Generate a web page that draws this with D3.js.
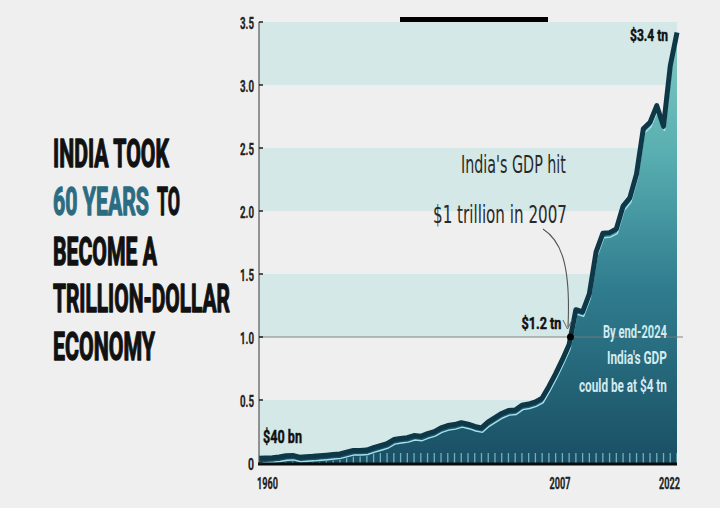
<!DOCTYPE html>
<html><head><meta charset="utf-8">
<script src="https://cdn.jsdelivr.net/npm/d3@7"></script>
<style>html,body{margin:0;padding:0;background:#efefef;} svg{display:block}</style>
</head><body><svg id="c" width="720" height="508"></svg>
<script>
// ---- data ----
const years = [1960,1961,1962,1963,1964,1965,1966,1967,1968,1969,
  1970,1971,1972,1973,1974,1975,1976,1977,1978,1979,
  1980,1981,1982,1983,1984,1985,1986,1987,1988,1989,
  1990,1991,1992,1993,1994,1995,1996,1997,1998,1999,
  2000,2001,2002,2003,2004,2005,2006,2007,2008,2009,
  2010,2011,2012,2013,2014,2015,2016,2017,2018,2019,
  2020,2021,2022];
const gdpTn = [0.037,0.039,0.042,0.048,0.057,0.060,0.046,0.050,0.053,0.058,
  0.062,0.067,0.072,0.086,0.100,0.099,0.103,0.122,0.137,0.153,
  0.186,0.194,0.201,0.218,0.212,0.233,0.249,0.279,0.297,0.305,
  0.320,0.308,0.290,0.279,0.327,0.360,0.393,0.416,0.421,0.459,
  0.468,0.485,0.515,0.608,0.709,0.820,0.940,1.217,1.199,1.342,
  1.676,1.823,1.828,1.857,2.039,2.104,2.295,2.652,2.703,2.836,
  2.672,3.150,3.417];
const yTicks = [0,0.5,1,1.5,2,2.5,3,3.5];
const yTickLabels = ["0","0.5","1.0","1.5","2.0","2.5","3.0","3.5"];
const xTickYears = [1960,2007,2022];
const bands = [[0,0.5],[1,1.5],[2,2.5],[3,3.5]];
const titleLines = ["INDIA TOOK","60 YEARS","TO","BECOME A","TRILLION-DOLLAR","ECONOMY"];
const noteLines = ["India's GDP hit","$1 trillion in 2007"];
const forecastLines = ["By end-2024","India's GDP","could be at $4 tn"];
const startLabel = "$40 bn", crossLabel = "$1.2 tn", endLabel = "$3.4 tn";
const thresholdTn = 1.0, crossYear = 2006.2;

// ---- layout ----
const svg = d3.select("#c");
const x = d3.scaleLinear().domain([1960,2022]).range([259,677]);
const y = d3.scaleLinear().domain([0,3.5]).range([463,22]);
const data = years.map((yr,i)=>({yr, v:gdpTn[i]}));

// text squeezed horizontally to a target width (condensed look)
function txt(g, str, px, py, width, size, opts={}) {
  const t = g.append("text").attr("x",0).attr("y",0).text(str)
    .attr("font-family", opts.family || "'Liberation Sans Narrow','Roboto','Liberation Sans',sans-serif")
    .attr("font-size", size)
    .attr("font-weight", opts.weight || "bold")
    .attr("fill", opts.fill || "#111")
    .attr("text-anchor", "start");
  if (opts.stroke) t.attr("stroke", opts.fill || "#111").attr("stroke-width", opts.stroke).attr("stroke-linejoin","round");
  const w = t.node().getComputedTextLength() || width;
  const sx = width / w;
  const left = opts.anchor === "end" ? px - width : (opts.anchor === "middle" ? px - width/2 : px);
  t.attr("transform", `translate(${left},${py}) scale(${sx},1)`);
  return t;
}

svg.append("rect").attr("width",720).attr("height",508).attr("fill","#efefef");

// top black bar
svg.append("rect").attr("x",400).attr("y",17).attr("width",148).attr("height",7).attr("fill","#000");

// bands
svg.selectAll("rect.band").data(bands).join("rect").attr("class","band")
  .attr("x", x(1960)).attr("width", x(2022)-x(1960))
  .attr("y", d=>y(d[1])).attr("height", d=>y(d[0])-y(d[1]))
  .attr("fill","#d3e8e7");

// gradient
const defs = svg.append("defs");
const grad = defs.append("linearGradient").attr("id","fillg")
  .attr("gradientUnits","userSpaceOnUse").attr("x1",0).attr("x2",0).attr("y1",y(3.5)).attr("y2",y(0));
[[0,"#84ccc4"],[0.3,"#58aeb0"],[0.6,"#307d8f"],[1,"#1a4f64"]].forEach(s=>
  grad.append("stop").attr("offset",s[0]).attr("stop-color",s[1]));

const area = d3.area().x(d=>x(d.yr)).y0(y(0)).y1(d=>y(d.v));
const line = d3.line().x(d=>x(d.yr)).y(d=>y(d.v));

svg.append("path").datum(data).attr("d",area).attr("fill","url(#fillg)");

// clip for year ticks
defs.append("clipPath").attr("id","areaClip").append("path").datum(data)
  .attr("d", d3.area().x(d=>x(d.yr)).y0(y(0)).y1(d=>y(d.v)+6));
svg.append("g").attr("clip-path","url(#areaClip)")
  .selectAll("line").data(years).join("line")
  .attr("x1",d=>x(d)).attr("x2",d=>x(d)).attr("y1",y(0)).attr("y2",y(0)-10)
  .attr("stroke","#6fb0be").attr("stroke-width",1.3);

// threshold line
svg.append("line").attr("x1",x(1960)).attr("x2",683).attr("y1",y(thresholdTn)).attr("y2",y(thresholdTn))
  .attr("stroke","#7a7a7a").attr("stroke-width",1.2).attr("opacity",0.9);

// highlight + main line
svg.append("path").datum(data).attr("d",line).attr("fill","none")
  .attr("stroke","#a6e2ea").attr("stroke-width",1.4).attr("transform","translate(1,4.5)");
svg.append("path").datum(data).attr("d",line).attr("fill","none")
  .attr("stroke","#0e3847").attr("stroke-width",5).attr("stroke-linejoin","round");

// axes
svg.append("line").attr("x1",x(1960)).attr("x2",x(1960)).attr("y1",y(3.5)).attr("y2",y(0))
  .attr("stroke","#555").attr("stroke-width",1.2);
svg.append("line").attr("x1",x(1960)-1).attr("x2",x(2022)).attr("y1",y(0)+1).attr("y2",y(0)+1)
  .attr("stroke","#0a0a0a").attr("stroke-width",3);
const yAxis = svg.append("g");
yTicks.forEach((v,i)=>{
  yAxis.append("line").attr("x1",x(1960)).attr("x2",x(1960)+4).attr("y1",y(v)).attr("y2",y(v))
    .attr("stroke","#222").attr("stroke-width",1.5);
  const lbl = yTickLabels[i];
  txt(yAxis, lbl, 254, y(v)+6.5, lbl.length===1?6:14, 17, {anchor:"end", fill:"#222", stroke:0.3});
});
xTickYears.forEach((yr,i)=>{
  const anchor = i===0 ? "start" : "end";
  const px = i===0 ? x(yr)-2 : (i===xTickYears.length-1 ? x(yr)+3 : x(crossYear));
  txt(svg, String(yr), px, 489, 21, 17, {anchor, fill:"#222", stroke:0.3});
});

// dot
svg.append("circle").attr("cx",x(crossYear)).attr("cy",y(thresholdTn)).attr("r",3.5).attr("fill","#000");

// value labels
txt(svg, startLabel, x(1960)+4, 443, 39, 19, {fill:"#111", stroke:0.5});
txt(svg, crossLabel, x(crossYear)-9, 329, 40, 17, {anchor:"end", fill:"#111", stroke:0.5});
txt(svg, endLabel, x(2022)-9, 41, 38, 17, {anchor:"end", fill:"#111", stroke:0.5});

// annotation
const hand = "'Liberation Sans Narrow','DejaVu Sans','Liberation Sans',sans-serif";
txt(svg, noteLines[0], 566, 173, 105, 24, {anchor:"end", weight:"normal", fill:"#2a2a2a", family:hand});
txt(svg, noteLines[1], 567, 223, 134, 24, {anchor:"end", weight:"normal", fill:"#2a2a2a", family:hand});
svg.append("path").attr("d","M543,229 C560,240 571,262 568,327")
  .attr("fill","none").attr("stroke","#555").attr("stroke-width",1.1);
svg.append("path").attr("d","M563,320 L567.5,329 L572,320")
  .attr("fill","none").attr("stroke","#666").attr("stroke-width",1);

// forecast text
forecastLines.forEach((s,i)=>{
  const w = [64,60,88][i];
  txt(svg, s, 667, [338,364,392][i], w, 18, {anchor:"end", weight:"bold", fill:"#d3eaee"});
});

// title
const ts = 1.4;
txt(svg, titleLines[0], 53, 167, 116, 39, {fill:"#111", stroke:ts});
txt(svg, titleLines[1], 53, 215, 96, 39, {fill:"#2c6c82", stroke:ts});
txt(svg, titleLines[2], 157, 215, 23, 39, {fill:"#111", stroke:ts});
txt(svg, titleLines[3], 53, 265, 104, 39, {fill:"#111", stroke:ts});
txt(svg, titleLines[4], 53, 312, 177, 39, {fill:"#111", stroke:ts});
txt(svg, titleLines[5], 53, 360, 102, 39, {fill:"#111", stroke:ts});
</script></body></html>
